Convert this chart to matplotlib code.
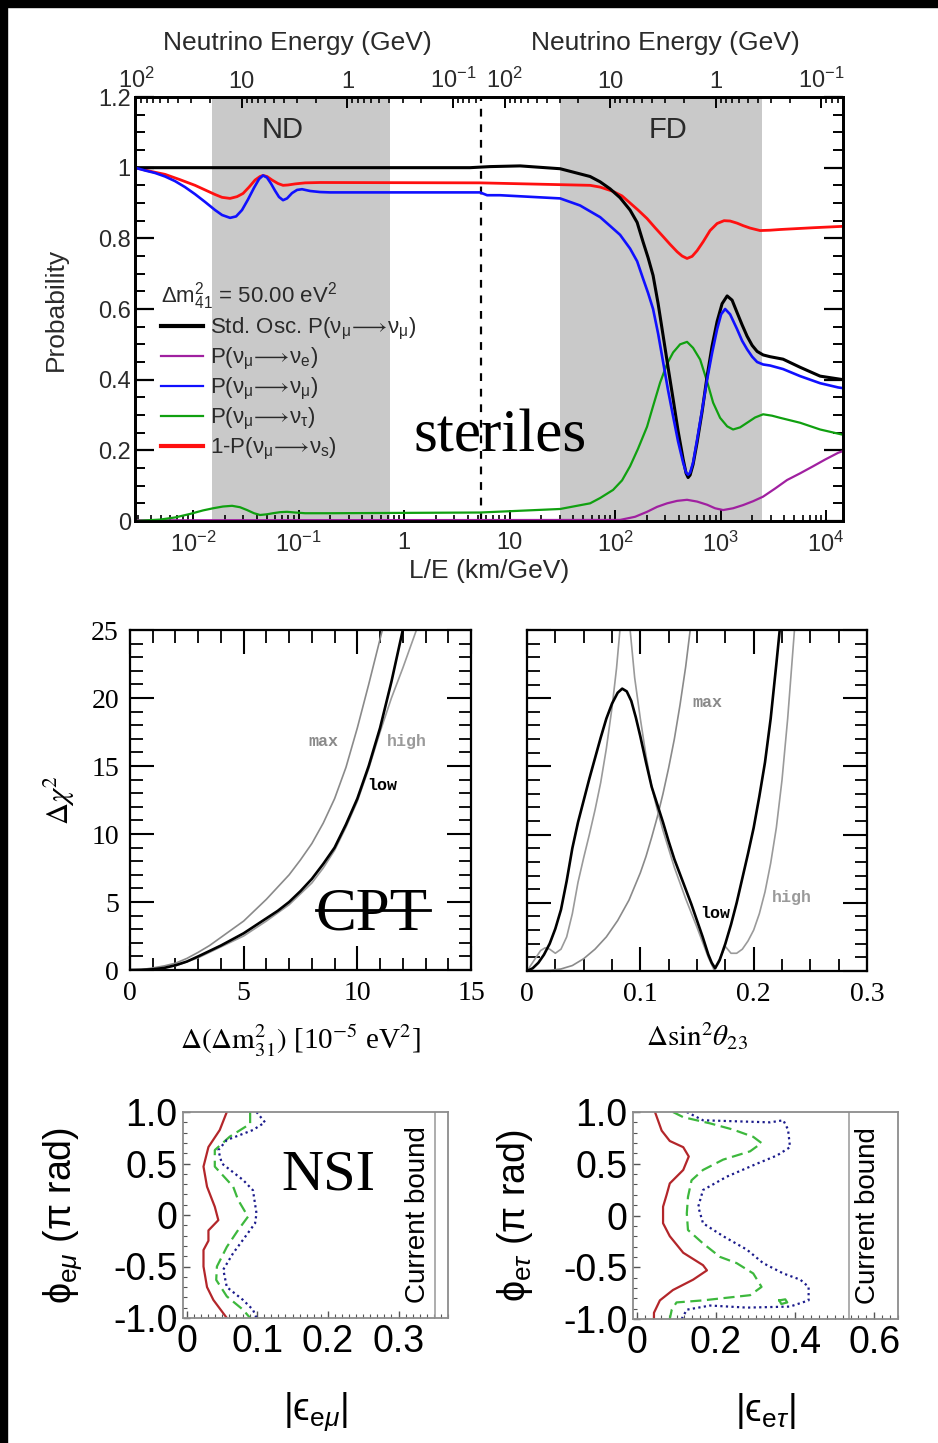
import matplotlib
matplotlib.use("Agg")
import numpy as np
import matplotlib.pyplot as plt
from matplotlib.lines import Line2D
from matplotlib.patches import Rectangle
from matplotlib.ticker import FixedLocator, MultipleLocator, NullFormatter

plt.rcParams["mathtext.fontset"] = "custom"
plt.rcParams["mathtext.rm"] = "Liberation Sans"
plt.rcParams["mathtext.it"] = "Liberation Sans:italic"
plt.rcParams["mathtext.bf"] = "Liberation Sans:bold"
plt.rcParams["axes.unicode_minus"] = False
plt.rcParams["font.family"] = ["Liberation Sans", "DejaVu Sans"]

# ---------------- data: steriles panel (x given as log10 of L/E in km/GeV) ----------------
L_ND = 0.29      # km (top energy axis, left half)
L_FD = 900.0     # km (top energy axis, right half)
LE_DASH = 5.4
ND_RANGE = (0.0151, 0.736)
FD_RANGE = (30.1, 2473.0)
LE_LIM = (10 ** -2.55, 10 ** 4.16)

lg_std = [-2.55, -0.986, 0.626, 0.815, 1.100, 1.479, 1.763, 1.858, 1.953, 2.047, 2.142, 2.209, 2.265,
          2.313, 2.360, 2.408, 2.455, 2.502, 2.550, 2.597, 2.645, 2.673, 2.692, 2.711, 2.739, 2.777,
          2.825, 2.872, 2.919, 2.967, 3.014, 3.062, 3.109, 3.156, 3.204, 3.251, 3.299, 3.346, 3.403,
          3.469, 3.592, 3.754, 3.943, 4.161]
p_std = [1.0, 1.0, 1.0, 1.003, 1.005, 0.997, 0.975, 0.96, 0.94, 0.915, 0.88, 0.845, 0.79,
         0.745, 0.695, 0.615, 0.525, 0.435, 0.345, 0.255, 0.175, 0.135, 0.123, 0.13, 0.16, 0.222,
         0.31, 0.41, 0.495, 0.565, 0.615, 0.637, 0.625, 0.59, 0.555, 0.523, 0.497, 0.48, 0.47,
         0.465, 0.458, 0.435, 0.41, 0.40]

lg_mumu = [-2.55, -2.455, -2.36, -2.265, -2.171, -2.076, -1.981, -1.886, -1.791, -1.725,
           -1.649, -1.592, -1.536, -1.479, -1.422, -1.374, -1.336, -1.299, -1.261, -1.223,
           -1.185, -1.147, -1.109, -1.062, -1.014, -0.967, -0.891, -0.796, -0.701,
           0.720, 0.787, 0.910, 1.479, 1.668, 1.829, 1.858, 1.953, 2.047, 2.142,
           2.209, 2.265, 2.313, 2.360, 2.408, 2.455, 2.502, 2.550, 2.597, 2.645,
           2.673, 2.692, 2.711, 2.739, 2.777, 2.825, 2.872, 2.919, 2.967, 3.005,
           3.043, 3.090, 3.156, 3.204, 3.251, 3.299, 3.346, 3.403, 3.469, 3.592,
           3.754, 3.943, 4.114, 4.161]
p_mumu = [1.0, 0.992, 0.985, 0.975, 0.962, 0.945, 0.925, 0.903, 0.88, 0.866,
          0.858, 0.862, 0.88, 0.91, 0.943, 0.968, 0.978, 0.972, 0.955, 0.935,
          0.917, 0.908, 0.913, 0.928, 0.937, 0.939, 0.934, 0.931, 0.930,
          0.930, 0.922, 0.922, 0.913, 0.893, 0.865, 0.86, 0.835, 0.81, 0.771,
          0.735, 0.686, 0.645, 0.60, 0.53, 0.45, 0.37, 0.296, 0.225, 0.165,
          0.137, 0.131, 0.137, 0.165, 0.23, 0.315, 0.40, 0.475, 0.543, 0.585,
          0.60, 0.585, 0.543, 0.51, 0.486, 0.465, 0.45, 0.443, 0.44, 0.43,
          0.41, 0.39, 0.378, 0.376]

lg_s = [-2.55, -2.408, -2.265, -2.123, -1.981, -1.886, -1.791, -1.725, -1.649, -1.583,
        -1.526, -1.469, -1.412, -1.365, -1.336, -1.299, -1.251, -1.194, -1.147, -1.100,
        -1.033, -0.938, -0.796,
        0.720, 1.763, 1.858, 1.981, 2.066, 2.142, 2.218, 2.303, 2.379, 2.455,
        2.521, 2.588, 2.635, 2.682, 2.730, 2.777, 2.834, 2.900, 2.967, 3.033,
        3.090, 3.156, 3.213, 3.280, 3.374, 3.469, 3.564, 3.877, 4.161]
p_s = [1.0, 0.99, 0.981, 0.966, 0.95, 0.937, 0.924, 0.916, 0.913, 0.918,
       0.927, 0.945, 0.965, 0.975, 0.978, 0.975, 0.965, 0.955, 0.95, 0.951,
       0.954, 0.957, 0.958,
       0.957, 0.95, 0.945, 0.933, 0.92, 0.90, 0.88, 0.856, 0.83, 0.805,
       0.783, 0.762, 0.75, 0.743, 0.749, 0.765, 0.79, 0.822, 0.842, 0.85,
       0.849, 0.843, 0.836, 0.829, 0.822, 0.823, 0.825, 0.83, 0.834]

lg_tau = [-2.55, -2.313, -2.171, -2.028, -1.905, -1.810, -1.716, -1.630, -1.555, -1.488,
          -1.422, -1.365, -1.299, -1.242, -1.175, -1.109, -1.033, -0.938, -0.701,
          0.720, 1.479, 1.763, 1.858, 1.981, 2.066, 2.142, 2.218, 2.303, 2.360,
          2.427, 2.493, 2.550, 2.616, 2.682, 2.739, 2.806, 2.872, 2.929, 2.995,
          3.062, 3.118, 3.185, 3.251, 3.327, 3.403, 3.488, 3.564, 3.754, 3.943, 4.161]
p_tau = [0.0, 0.004, 0.01, 0.02, 0.03, 0.036, 0.041, 0.043, 0.039, 0.031,
         0.022, 0.017, 0.019, 0.022, 0.025, 0.026, 0.024, 0.022, 0.022,
         0.024, 0.034, 0.05, 0.065, 0.088, 0.115, 0.155, 0.205, 0.267, 0.325,
         0.392, 0.445, 0.477, 0.50, 0.507, 0.49, 0.457, 0.395, 0.335, 0.292,
         0.268, 0.259, 0.265, 0.278, 0.293, 0.302, 0.298, 0.292, 0.278, 0.259, 0.244]

lg_e = [-2.55, 2.047, 2.190, 2.303, 2.398, 2.493, 2.588, 2.682, 2.777, 2.872,
        2.948, 3.024, 3.118, 3.213, 3.308, 3.403, 3.517, 3.630, 3.754, 3.877,
        3.991, 4.114, 4.161]
p_e = [0.002, 0.003, 0.012, 0.026, 0.04, 0.05, 0.057, 0.06, 0.055, 0.046,
       0.036, 0.031, 0.036, 0.045, 0.056, 0.069, 0.092, 0.116, 0.135, 0.155,
       0.174, 0.193, 0.198]

prob_ticks = [0, 0.2, 0.4, 0.6, 0.8, 1.0, 1.2]
prob_labels = ["0", "0.2", "0.4", "0.6", "0.8", "1", "1.2"]
le_ticks = [1e-2, 1e-1, 1, 10, 1e2, 1e3, 1e4]
le_labels = [r"$10^{-2}$", r"$10^{-1}$", "1", "10", r"$10^{2}$", r"$10^{3}$", r"$10^{4}$"]
energy_ticks = [100, 10, 1, 0.1]
energy_labels = [r"$10^{2}$", "10", "1", r"$10^{-1}$"]

# ---------------- data: CPT panels ----------------
dm_max = [0, 0.5, 1, 1.5, 2, 2.5, 3, 3.5, 4, 4.5, 5, 5.5, 6, 6.5, 7, 7.5, 8, 8.5, 9, 9.5, 10, 10.5, 11.1, 11.4]
chi_max = [0, 0.03, 0.15, 0.3, 0.5, 0.85, 1.3, 1.8, 2.4, 3.0, 3.6, 4.4, 5.2, 6.1, 7.0, 8.1, 9.3, 10.8,
           12.6, 14.9, 17.8, 21.0, 25.0, 27.0]
dm_low = [0, 0.5, 1, 1.5, 2, 2.5, 3, 3.5, 4, 4.5, 5, 5.5, 6, 6.5, 7, 7.5, 8, 8.5, 9, 9.5, 10, 10.5,
          11, 11.5, 12, 12.3]
chi_low = [0, 0.01, 0.05, 0.15, 0.35, 0.62, 1.0, 1.4, 1.8, 2.25, 2.7, 3.25, 3.8, 4.35, 5.0, 5.8, 6.7,
           7.8, 9.0, 10.7, 12.6, 15.0, 17.8, 21.2, 25.0, 27.5]
dm_high = [0, 1, 2, 3, 4, 5, 6, 7, 8, 8.5, 9, 9.5, 10, 10.5, 11, 11.5, 12, 12.6, 12.9]
chi_high = [0, 0.05, 0.3, 0.9, 1.7, 2.5, 3.6, 4.8, 6.4, 7.5, 8.8, 10.5, 12.4, 14.8, 17.5, 20.0, 22.2,
            25.0, 26.5]

s23_low = [0, 0.005, 0.01, 0.015, 0.02, 0.025, 0.03, 0.035, 0.04, 0.045, 0.05, 0.055, 0.06, 0.065,
           0.07, 0.075, 0.08, 0.084, 0.088, 0.092, 0.096, 0.1, 0.105, 0.11, 0.115, 0.12, 0.125, 0.13,
           0.135, 0.14, 0.145, 0.15, 0.155, 0.16, 0.163, 0.166, 0.17, 0.175, 0.18, 0.185, 0.19, 0.195,
           0.2, 0.205, 0.21, 0.215, 0.22, 0.223, 0.226]
chi23_low = [0, 0.2, 0.6, 1.2, 2.0, 3.1, 4.5, 6.6, 9.0, 10.9, 12.5, 14.1, 15.6, 17.1,
             18.5, 19.6, 20.4, 20.7, 20.5, 19.8, 18.6, 17.2, 15.3, 13.5, 12.2, 10.9, 9.5, 8.2,
             7.1, 6.0, 4.9, 3.7, 2.5, 1.2, 0.6, 0.2, 0.8, 2.0, 3.4, 5.0, 6.8, 8.6,
             10.5, 12.8, 15.3, 18.5, 22.5, 25.0, 27.5]
s23_high = [0, 0.004, 0.008, 0.012, 0.016, 0.02, 0.025, 0.03, 0.035, 0.04, 0.045, 0.05, 0.055, 0.06,
            0.065, 0.07, 0.075, 0.079, 0.082, 0.0865, 0.091, 0.095, 0.1, 0.105, 0.11, 0.115, 0.12,
            0.13, 0.14, 0.15, 0.155, 0.16, 0.165, 0.17, 0.175, 0.18, 0.185, 0.19, 0.195, 0.2, 0.205,
            0.21, 0.215, 0.22, 0.225, 0.23, 0.236, 0.239]
chi23_high = [0, 0.5, 1.0, 1.5, 1.7, 1.6, 1.3, 1.6, 2.5, 4.2, 6.5, 8.3, 10.0, 11.8,
              13.8, 16.3, 19.3, 22.2, 25.0, 28.5, 25.0, 21.5, 18.5, 15.8, 13.5, 11.8, 10.3,
              7.6, 5.3, 3.2, 2.1, 1.0, 0.1, 0.9, 1.8, 1.3, 1.3, 1.6, 2.2, 3.0, 4.2,
              5.8, 7.9, 10.5, 14.0, 18.5, 25.0, 27.5]
s23_max = [0, 0.02, 0.03, 0.04, 0.05, 0.06, 0.07, 0.08, 0.09, 0.1, 0.105, 0.11, 0.115, 0.12, 0.125,
           0.13, 0.135, 0.14, 0.144, 0.147]
chi23_max = [0, 0.05, 0.15, 0.4, 0.9, 1.6, 2.5, 3.7, 5.2, 7.2, 8.4, 9.8, 11.3, 13.0, 14.9,
             17.0, 19.5, 22.3, 25.0, 27.5]

# ---------------- data: NSI panels ----------------
emu_red_x = [0.057, 0.047, 0.031, 0.024, 0.029, 0.040, 0.045, 0.031, 0.031, 0.024, 0.024, 0.029, 0.038, 0.057]
emu_red_y = [1.0, 0.825, 0.66, 0.47, 0.275, 0.08, -0.05, -0.15, -0.25, -0.34, -0.50, -0.70, -0.825, -1.0]
emu_grn_x = [0.09, 0.09, 0.061, 0.040, 0.040, 0.066, 0.073, 0.087, 0.073, 0.057, 0.043, 0.042, 0.057, 0.08, 0.09]
emu_grn_y = [1.0, 0.885, 0.76, 0.63, 0.47, 0.275, 0.146, -0.016, -0.146, -0.31, -0.5, -0.63, -0.79, -0.92, -1.0]
emu_blu_x = [0.099, 0.111, 0.094, 0.057, 0.045, 0.05, 0.08, 0.094, 0.099, 0.097, 0.08, 0.066, 0.052,
             0.057, 0.08, 0.094, 0.099]
emu_blu_y = [1.0, 0.9, 0.825, 0.728, 0.63, 0.5, 0.34, 0.24, 0.016, -0.08, -0.24, -0.37, -0.53,
             -0.7, -0.825, -0.92, -1.0]
etau_red_x = [0.0456, 0.0625, 0.083, 0.117, 0.131, 0.117, 0.083, 0.075, 0.066, 0.066, 0.083, 0.117,
              0.167, 0.177, 0.142, 0.091, 0.058, 0.043, 0.043]
etau_red_y = [1.0, 0.82, 0.72, 0.66, 0.57, 0.44, 0.31, 0.2, 0.085, -0.075, -0.2, -0.36,
              -0.48, -0.53, -0.62, -0.72, -0.82, -0.94, -1.0]
etau_grn_x = [0.091, 0.117, 0.185, 0.243, 0.294, 0.315, 0.286, 0.218, 0.167, 0.138, 0.129, 0.126,
              0.129, 0.167, 0.21, 0.252, 0.294, 0.315, 0.286, 0.167, 0.1, 0.088, 0.083]
etau_grn_y = [1.0, 0.95, 0.89, 0.83, 0.76, 0.70, 0.62, 0.54, 0.44, 0.34, 0.18, 0.02,
              -0.14, -0.27, -0.40, -0.46, -0.56, -0.69, -0.77, -0.82, -0.84, -0.91, -1.0]
etau_blob_x = [0.36, 0.375, 0.38, 0.365, 0.36]
etau_blob_y = [-0.82, -0.81, -0.84, -0.855, -0.82]
etau_blu_x = [0.126, 0.167, 0.252, 0.337, 0.37, 0.382, 0.387, 0.354, 0.303, 0.227, 0.167, 0.155,
              0.167, 0.218, 0.278, 0.319, 0.37, 0.413, 0.434, 0.434, 0.387, 0.278, 0.185, 0.126, 0.113]
etau_blu_y = [1.0, 0.92, 0.91, 0.90, 0.92, 0.83, 0.66, 0.58, 0.5, 0.375, 0.246, 0.085,
              -0.075, -0.2, -0.33, -0.46, -0.56, -0.62, -0.69, -0.82, -0.88, -0.89, -0.87, -0.91, -1.0]
bound_emu = 0.352
bound_etau = 0.537
phi_ticks = [1.0, 0.5, 0, -0.5, -1.0]
phi_labels = ["1.0", "0.5", "0", "-0.5", "-1.0"]

# ---------------- figure ----------------
W, H = 938, 1443
fig = plt.figure(figsize=(W / 100, H / 100), dpi=100)
fig.patch.set_facecolor("white")
fig.patches.append(Rectangle((0, 1 - 7 / H), 1, 7 / H, transform=fig.transFigure, color="black", zorder=10))
fig.patches.append(Rectangle((0, 0), 7 / W, 1, transform=fig.transFigure, color="black", zorder=10))


def ax_px(l, t, r, b):
    return fig.add_axes([l / W, 1 - b / H, (r - l) / W, (b - t) / H])


def fx(x):
    return x / W


def fy(y):
    return 1 - y / H


TXT = "#2a2a2a"

# ====== top panel ======
ax = ax_px(135, 97, 843, 521)
ax.set_xscale("log")
ax.set_xlim(*LE_LIM)
ax.set_ylim(0, 1.2)
ax.axvspan(*ND_RANGE, color="#c9c9c9", lw=0, zorder=0)
ax.axvspan(*FD_RANGE, color="#c9c9c9", lw=0, zorder=0)
ax.axvline(LE_DASH, color="black", ls=(0, (3.5, 3.5)), lw=1.6, zorder=1)
ax.plot(10 ** np.array(lg_e), p_e, color="#a020a0", lw=1.6, zorder=3)
ax.plot(10 ** np.array(lg_tau), p_tau, color="#10a010", lw=1.6, zorder=3)
ax.plot(10 ** np.array(lg_s), p_s, color="#ff1010", lw=2.0, zorder=3)
ax.plot(10 ** np.array(lg_std), p_std, color="black", lw=2.2, zorder=4)
ax.plot(10 ** np.array(lg_mumu), p_mumu, color="#1010ff", lw=1.9, zorder=5)
for s in ax.spines.values():
    s.set_linewidth(2.0)
ax.set_yticks(prob_ticks)
ax.set_yticklabels(prob_labels)
ax.yaxis.set_minor_locator(MultipleLocator(0.05))
ax.set_xticks(le_ticks)
ax.set_xticklabels(le_labels)
ax.tick_params(axis="y", which="major", direction="in", length=14, width=1.6, right=True,
               labelsize=17, labelcolor=TXT, pad=3)
ax.tick_params(axis="y", which="minor", direction="in", length=7, width=1.4, right=True)
ax.tick_params(axis="x", which="major", direction="in", length=8, width=1.4, top=False,
               labelsize=17, labelcolor=TXT, pad=8)
ax.tick_params(axis="x", which="minor", direction="in", length=4, width=1.2, top=False)
ax.set_xlabel("L/E (km/GeV)", fontsize=19, color=TXT, labelpad=1)
ax.set_ylabel("Probability", fontsize=19, color=TXT, labelpad=22)

ax.text((283 - 135) / 708, (521 - 130) / 424, "ND", transform=ax.transAxes, ha="center", va="center",
        fontsize=21, color=TXT)
ax.text((668 - 135) / 708, (521 - 130) / 424, "FD", transform=ax.transAxes, ha="center", va="center",
        fontsize=21, color=TXT)

# top energy axis
tw = ax.twiny()
tw.set_xscale("log")
tw.set_xlim(*LE_LIM)
maj, labs, mins = [], [], []
for E, lab in zip(energy_ticks, energy_labels):
    if LE_LIM[0] <= L_ND / E < LE_DASH:
        maj.append(L_ND / E); labs.append(lab)
for E, lab in zip(energy_ticks, energy_labels):
    if LE_DASH < L_FD / E <= LE_LIM[1]:
        maj.append(L_FD / E); labs.append(lab)
for dec in [0.01, 0.1, 1, 10]:
    for k in range(2, 10):
        E = k * dec
        if LE_LIM[0] < L_ND / E < LE_DASH:
            mins.append(L_ND / E)
        if LE_DASH < L_FD / E < LE_LIM[1]:
            mins.append(L_FD / E)
tw.xaxis.set_major_locator(FixedLocator(maj))
tw.set_xticklabels(labs)
tw.xaxis.set_minor_locator(FixedLocator(mins))
tw.xaxis.set_minor_formatter(NullFormatter())
tw.tick_params(axis="x", which="major", direction="in", length=8, width=1.4, labelsize=17,
               labelcolor=TXT, pad=3)
tw.tick_params(axis="x", which="minor", direction="in", length=4, width=1.2)
for s in tw.spines.values():
    s.set_linewidth(2.0)
fig.text(fx(297), fy(43), "Neutrino Energy (GeV)", ha="center", va="center", fontsize=19, color=TXT)
fig.text(fx(665), fy(43), "Neutrino Energy (GeV)", ha="center", va="center", fontsize=19, color=TXT)

handles = [Line2D([], [], color="black", lw=3.0),
           Line2D([], [], color="#a020a0", lw=1.6),
           Line2D([], [], color="#1010ff", lw=1.6),
           Line2D([], [], color="#10a010", lw=1.6),
           Line2D([], [], color="#ff1010", lw=3.0)]
labels = [r"Std. Osc. P($\mathrm{\nu_\mu\!\longrightarrow\!\nu_\mu}$)",
          r"P($\mathrm{\nu_\mu\!\longrightarrow\!\nu_e}$)",
          r"P($\mathrm{\nu_\mu\!\longrightarrow\!\nu_\mu}$)",
          r"P($\mathrm{\nu_\mu\!\longrightarrow\!\nu_\tau}$)",
          r"1-P($\mathrm{\nu_\mu\!\longrightarrow\!\nu_s}$)"]
leg = ax.legend(handles, labels, title=r"$\Delta$m$^2_{41}$ = 50.00 eV$^2$", loc="upper left",
                bbox_to_anchor=((161 - 135) / 708, (521 - 280) / 424), frameon=False,
                fontsize=16, title_fontsize=16, handlelength=1.9, handletextpad=0.3,
                labelspacing=0.18, borderpad=0, borderaxespad=0, alignment="left")
for t in leg.get_texts():
    t.set_color(TXT)
leg.get_title().set_color(TXT)

fig.text(fx(500), fy(452), "steriles", ha="center", va="baseline", fontsize=44,
         family="Liberation Serif", color="black")

# ====== CPT panels ======
SERIF = "Liberation Serif"
axc = ax_px(130, 630, 471, 970)
axc.plot(dm_max, chi_max, color="#8a8a8a", lw=1.2)
axc.plot(dm_high, chi_high, color="#9a9a9a", lw=1.2)
axc.plot(dm_low, chi_low, color="black", lw=1.9)
axc.set_xlim(0, 15)
axc.set_ylim(0, 25)
axc.set_xticks([0, 5, 10, 15])
axc.set_xticklabels(["0", "5", "10", "15"])
axc.set_yticks([0, 5, 10, 15, 20, 25])
axc.set_yticklabels(["0", "5", "10", "15", "20", "25"])
axc.xaxis.set_minor_locator(MultipleLocator(1))
axc.yaxis.set_minor_locator(MultipleLocator(1))

axd = ax_px(527, 630, 867, 971)
axd.plot(s23_max, chi23_max, color="#8a8a8a", lw=1.2)
axd.plot(s23_high, chi23_high, color="#9a9a9a", lw=1.2)
axd.plot(s23_low, chi23_low, color="black", lw=1.9)
axd.set_xlim(0, 0.3)
axd.set_ylim(0, 25)
axd.set_xticks([0, 0.1, 0.2, 0.3])
axd.set_xticklabels(["0", "0.1", "0.2", "0.3"])
axd.set_yticks([0, 5, 10, 15, 20, 25])
axd.set_yticklabels([])
axd.xaxis.set_minor_locator(MultipleLocator(0.025))
axd.yaxis.set_minor_locator(MultipleLocator(1))

for a in (axc, axd):
    for s in a.spines.values():
        s.set_linewidth(1.6)
    a.tick_params(which="major", direction="in", length=17, width=1.5, top=True, right=True,
                  labelsize=20, pad=8)
    a.tick_params(which="minor", direction="in", length=9, width=1.3, top=True, right=True)
    for t in a.get_xticklabels() + a.get_yticklabels():
        t.set_family(SERIF)

axc.set_xlabel(r"$\Delta(\Delta \mathrm{m}^2_{31})$ [10$^{-5}$ eV$^2$]", fontsize=21,
               family=SERIF, math_fontfamily="stix", labelpad=12)
axc.set_ylabel(r"$\Delta\chi^2$", fontsize=22, family=SERIF, math_fontfamily="stix", labelpad=10)
axd.set_xlabel(r"$\Delta\mathrm{sin}^2\theta_{23}$", fontsize=21, family=SERIF,
               math_fontfamily="stix", labelpad=10)

MONO = "Liberation Mono"
axc.text(8.5, 16.8, "max", color="#8a8a8a", fontsize=12, family=MONO, weight="bold", ha="center", va="center")
axc.text(12.2, 16.8, "high", color="#9a9a9a", fontsize=12, family=MONO, weight="bold", ha="center", va="center")
axc.text(11.1, 13.6, "low", color="black", fontsize=12, family=MONO, weight="bold", ha="center", va="center")
axd.text(0.159, 19.7, "max", color="#8a8a8a", fontsize=12, family=MONO, weight="bold", ha="center", va="center")
axd.text(0.234, 5.4, "high", color="#9a9a9a", fontsize=12, family=MONO, weight="bold", ha="center", va="center")
axd.text(0.166, 4.2, "low", color="black", fontsize=12, family=MONO, weight="bold", ha="center", va="center")

fig.text(fx(372), fy(930), "CPT", ha="center", va="baseline", fontsize=44, family=SERIF, color="black")
fig.lines.append(Line2D([fx(316), fx(430)], [fy(910), fy(910)], transform=fig.transFigure,
                        color="black", lw=2.0))

# ====== NSI panels ======
axn = ax_px(183, 1112, 448, 1318)
axm = ax_px(633, 1112, 898, 1319)
RED, GRN, BLU = "#b3262a", "#3db83d", "#1c1c8c"
axn.plot(emu_red_x, emu_red_y, color=RED, lw=1.6)
axn.plot(emu_grn_x, emu_grn_y, color=GRN, lw=1.6, ls=(0, (5, 2.5)))
axn.plot(emu_blu_x, emu_blu_y, color=BLU, lw=1.6, ls=(0, (1, 1.5)))
axn.axvline(bound_emu, color="#a0a0a0", lw=1.2)
axn.set_xlim(-0.005, 0.37)
axn.set_xticks([0, 0.1, 0.2, 0.3])
axn.set_xticklabels(["0", "0.1", "0.2", "0.3"])
axn.xaxis.set_minor_locator(MultipleLocator(0.01))

axm.plot(etau_red_x, etau_red_y, color=RED, lw=1.6)
axm.plot(etau_grn_x, etau_grn_y, color=GRN, lw=1.6, ls=(0, (5, 2.5)))
axm.plot(etau_blob_x, etau_blob_y, color=GRN, lw=1.6)
axm.plot(etau_blu_x, etau_blu_y, color=BLU, lw=1.6, ls=(0, (1, 1.5)))
axm.axvline(bound_etau, color="#a0a0a0", lw=1.2)
axm.set_xlim(-0.01, 0.66)
axm.set_xticks([0, 0.2, 0.4, 0.6])
axm.set_xticklabels(["0", "0.2", "0.4", "0.6"])
axm.xaxis.set_minor_locator(MultipleLocator(0.02))

for a, lab, ylab in ((axn, r"|ϵ$_{\mathrm{e}\mu}$|", r"ϕ$_{\mathrm{e}\mu}$ (π rad)"),
                     (axm, r"|ϵ$_{\mathrm{e}\tau}$|", r"ϕ$_{\mathrm{e}\tau}$ (π rad)")):
    a.set_ylim(-1, 1)
    a.set_yticks(phi_ticks)
    a.set_yticklabels(phi_labels)
    a.yaxis.set_minor_locator(MultipleLocator(0.1))
    for s in a.spines.values():
        s.set_color("#8c8c8c")
        s.set_linewidth(1.3)
    a.tick_params(which="major", direction="in", length=5, width=1.0, color="#555555",
                  labelsize=27, pad=4, top=False, right=False)
    a.tick_params(which="minor", direction="in", length=3, width=0.8, color="#555555",
                  top=False, right=False)
    a.set_xlabel(lab, fontsize=27, labelpad=22, family=["Liberation Sans", "DejaVu Sans"])
    a.set_ylabel(ylab, fontsize=27, labelpad=20, family=["Liberation Sans", "DejaVu Sans"])

axn.text(0.327, 0.0, "Current bound", rotation=90, ha="center", va="center", fontsize=20, color="black")
axm.text(0.585, 0.0, "Current bound", rotation=90, ha="center", va="center", fontsize=20, color="black")

fig.text(fx(328), fy(1190), "NSI", ha="center", va="baseline", fontsize=42, family=SERIF, color="black")

fig.savefig("out.png", dpi=100, facecolor="white")
